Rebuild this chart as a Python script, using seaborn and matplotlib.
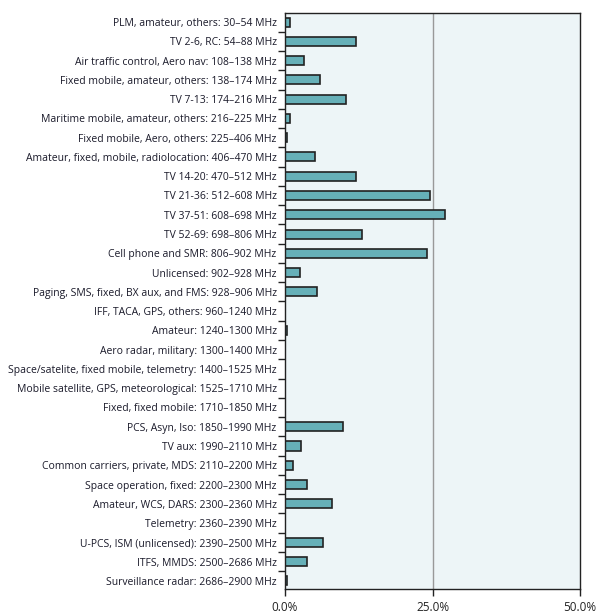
import numpy as np
import pandas as pd
import matplotlib.pyplot as plt
import seaborn as sns
from matplotlib.ticker import FixedLocator

# kategorie (pasma) i udział procentowy
bands = [
    'PLM, amateur, others: 30\u201354 MHz',
    'TV 2-6, RC: 54\u201388 MHz',
    'Air traffic control, Aero nav: 108\u2013138 MHz',
    'Fixed mobile, amateur, others: 138\u2013174 MHz',
    'TV 7-13: 174\u2013216 MHz',
    'Maritime mobile, amateur, others: 216\u2013225 MHz',
    'Fixed mobile, Aero, others: 225\u2013406 MHz',
    'Amateur, fixed, mobile, radiolocation: 406\u2013470 MHz',
    'TV 14-20: 470\u2013512 MHz',
    'TV 21-36: 512\u2013608 MHz',
    'TV 37-51: 608\u2013698 MHz',
    'TV 52-69: 698\u2013806 MHz',
    'Cell phone and SMR: 806\u2013902 MHz',
    'Unlicensed: 902\u2013928 MHz',
    'Paging, SMS, fixed, BX aux, and FMS: 928\u2013906 MHz',
    'IFF, TACA, GPS, others: 960\u20131240 MHz',
    'Amateur: 1240\u20131300 MHz',
    'Aero radar, military: 1300\u20131400 MHz',
    'Space/satelite, fixed mobile, telemetry: 1400\u20131525 MHz',
    'Mobile satellite, GPS, meteorological: 1525\u20131710 MHz',
    'Fixed, fixed mobile: 1710\u20131850 MHz',
    'PCS, Asyn, Iso: 1850\u20131990 MHz',
    'TV aux: 1990\u20132110 MHz',
    'Common carriers, private, MDS: 2110\u20132200 MHz',
    'Space operation, fixed: 2200\u20132300 MHz',
    'Amateur, WCS, DARS: 2300\u20132360 MHz',
    'Telemetry: 2360\u20132390 MHz',
    'U-PCS, ISM (unlicensed): 2390\u20132500 MHz',
    'ITFS, MMDS: 2500\u20132686 MHz',
    'Surveillance radar: 2686\u20132900 MHz',
]
share = [0.9, 12.0, 3.2, 6.0, 10.3, 0.9, 0.3, 5.0, 12.1, 24.5,
         27.2, 13.0, 24.0, 2.5, 5.5, 0.0, 0.4, 0.0, 0.0, 0.0,
         0.0, 9.8, 2.7, 1.3, 3.7, 8.0, 0.0, 6.4, 3.8, 0.4]
xticks = [0, 25, 50]
xtick_labels = ['0.0%', '25.0%', '50.0%']

df = pd.DataFrame({'band': bands, 'share': share})

sns.set_style('ticks')
plt.rcParams['font.family'] = ['Open Sans', 'DejaVu Sans']

fig = plt.figure(figsize=(5.99, 6.16), dpi=100)
ax = fig.add_axes([0.4758, 0.0438, 0.4925, 0.9351])
ax.set_facecolor('#edf5f7')

sns.barplot(data=df, x='share', y='band', orient='h', color='#66b0b8',
            edgecolor='#222222', linewidth=1.2, width=0.47, saturation=1, ax=ax)

# linia pomocnicza na 25%
ax.axvline(25, color='#999999', linewidth=1.0, zorder=0.5)

ax.set_xlim(0, 50)
ax.set_ylim(len(bands) - 0.58, -0.47)
ax.set_xticks(xticks)
ax.set_xticklabels(xtick_labels, fontsize=8.5, color='#222222')
ax.tick_params(axis='y', which='major', length=0, labelsize=7.5, labelcolor='#1a1a2a', pad=6)
ax.yaxis.set_minor_locator(FixedLocator(np.arange(0.5, len(bands) - 1, 1)))
ax.tick_params(axis='y', which='minor', length=5, width=1, color='#222222')
ax.tick_params(axis='x', length=5, width=1, color='#222222')
ax.set_xlabel('')
ax.set_ylabel('')
for s in ax.spines.values():
    s.set_linewidth(1.0)
    s.set_color('#222222')

fig.savefig('out.png', dpi=100)
